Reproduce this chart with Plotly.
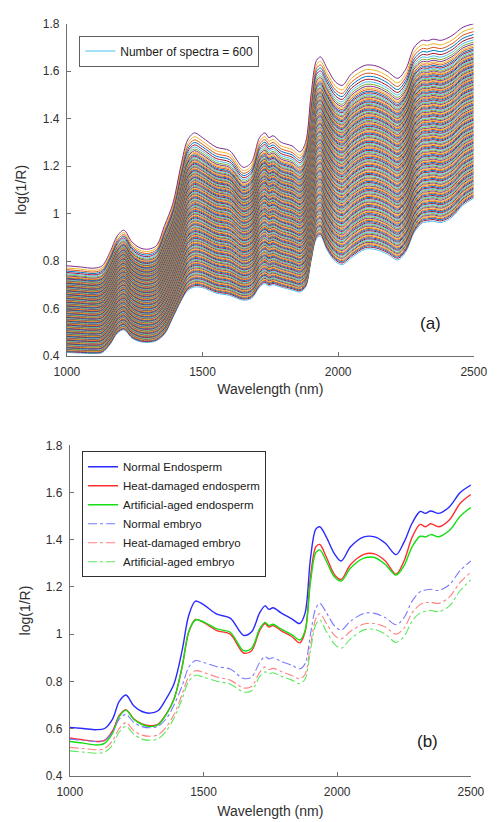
import plotly.graph_objects as go

# ---------------- data ----------------
WAVELENGTH = [1000, 1050, 1100, 1130, 1160, 1185, 1210, 1240, 1270, 1300,
              1330, 1360, 1390, 1420, 1445, 1470, 1500, 1550, 1600, 1650,
              1680, 1710, 1730, 1745, 1760, 1790, 1830, 1860, 1880, 1900,
              1920, 1935, 1960, 1990, 2015, 2050, 2100, 2140, 2180, 2220,
              2250, 2280, 2310, 2330, 2350, 2380, 2420, 2460, 2500]

# (a) upper-most and lower-most spectra of the 600-spectrum set
UPPER_SPECTRUM = [0.780, 0.775, 0.770, 0.780, 0.840, 0.905, 0.930, 0.880, 0.855, 0.850,
                  0.865, 0.950, 1.040, 1.200, 1.310, 1.340, 1.320, 1.280, 1.265, 1.195,
                  1.215, 1.320, 1.340, 1.320, 1.328, 1.300, 1.285, 1.260, 1.300, 1.500,
                  1.645, 1.660, 1.610, 1.555, 1.540, 1.590, 1.625, 1.622, 1.600, 1.570,
                  1.610, 1.700, 1.730, 1.728, 1.735, 1.730, 1.750, 1.785, 1.800]
LOWER_SPECTRUM = [0.415, 0.412, 0.410, 0.414, 0.450, 0.495, 0.510, 0.475, 0.460, 0.457,
                  0.464, 0.492, 0.560, 0.630, 0.675, 0.690, 0.688, 0.665, 0.655, 0.635,
                  0.642, 0.690, 0.705, 0.695, 0.700, 0.690, 0.678, 0.670, 0.690, 0.800,
                  0.895, 0.905, 0.845, 0.798, 0.785, 0.815, 0.850, 0.848, 0.830, 0.805,
                  0.840, 0.920, 0.960, 0.965, 0.968, 0.962, 0.985, 1.035, 1.065]
# relative level of each drawn spectrum between the lower-most (0) and upper-most (1) one
SPECTRUM_LEVELS = [
    0.000, 0.009, 0.016, 0.022, 0.029, 0.035, 0.041, 0.048, 0.054, 0.060,
    0.066, 0.073, 0.079, 0.085, 0.091, 0.098, 0.104, 0.110, 0.116, 0.123,
    0.129, 0.135, 0.141, 0.148, 0.154, 0.160, 0.166, 0.173, 0.179, 0.185,
    0.191, 0.198, 0.204, 0.210, 0.216, 0.223, 0.229, 0.235, 0.241, 0.248,
    0.254, 0.260, 0.266, 0.273, 0.279, 0.285, 0.291, 0.298, 0.304, 0.310,
    0.316, 0.323, 0.329, 0.335, 0.341, 0.348, 0.354, 0.360, 0.366, 0.373,
    0.379, 0.385, 0.391, 0.398, 0.404, 0.410, 0.416, 0.423, 0.429, 0.435,
    0.441, 0.448, 0.454, 0.460, 0.466, 0.473, 0.479, 0.485, 0.491, 0.498,
    0.504, 0.510, 0.516, 0.523, 0.529, 0.535, 0.541, 0.548, 0.554, 0.560,
    0.566, 0.573, 0.579, 0.585, 0.591, 0.598, 0.604, 0.610, 0.616, 0.623,
    0.629, 0.635, 0.641, 0.648, 0.654, 0.660, 0.666, 0.673, 0.679, 0.685,
    0.691, 0.698, 0.704, 0.710, 0.716, 0.723, 0.729, 0.735, 0.741, 0.748,
    0.754, 0.760, 0.766, 0.773, 0.779, 0.785, 0.791, 0.798, 0.804, 0.811,
    0.818, 0.825, 0.832, 0.840, 0.848, 0.856, 0.865, 0.874, 0.884, 0.895,
    0.908, 0.922, 0.938, 0.955, 0.975, 1.000]
SPECTRA_LABEL = "Number of spectra = 600"

# (b) mean spectra
NORMAL_ENDOSPERM = [0.605, 0.600, 0.595, 0.600, 0.640, 0.715, 0.742, 0.695, 0.672, 0.665,
                    0.675, 0.725, 0.790, 0.930, 1.080, 1.140, 1.125, 1.085, 1.068, 0.995,
                    1.010, 1.090, 1.120, 1.105, 1.112, 1.090, 1.065, 1.045, 1.090, 1.320,
                    1.445, 1.455, 1.410, 1.340, 1.310, 1.370, 1.412, 1.412, 1.385, 1.337,
                    1.390, 1.470, 1.520, 1.512, 1.522, 1.512, 1.540, 1.600, 1.632]
HEAT_ENDOSPERM = [0.560, 0.552, 0.545, 0.550, 0.590, 0.655, 0.680, 0.640, 0.620, 0.612,
                  0.618, 0.660, 0.725, 0.860, 1.010, 1.062, 1.050, 1.015, 1.000, 0.920,
                  0.930, 1.015, 1.045, 1.030, 1.036, 1.015, 0.990, 0.963, 1.010, 1.240,
                  1.370, 1.380, 1.325, 1.252, 1.232, 1.295, 1.338, 1.340, 1.310, 1.254,
                  1.310, 1.410, 1.465, 1.455, 1.468, 1.455, 1.485, 1.555, 1.592]
AGED_ENDOSPERM = [0.545, 0.538, 0.530, 0.537, 0.580, 0.650, 0.678, 0.638, 0.617, 0.608,
                  0.615, 0.658, 0.725, 0.860, 1.010, 1.060, 1.052, 1.022, 1.008, 0.930,
                  0.940, 1.022, 1.050, 1.036, 1.042, 1.022, 0.998, 0.975, 1.015, 1.220,
                  1.345, 1.357, 1.308, 1.242, 1.225, 1.280, 1.322, 1.325, 1.295, 1.250,
                  1.290, 1.370, 1.415, 1.412, 1.422, 1.413, 1.440, 1.500, 1.537]
NORMAL_EMBRYO = [0.555, 0.550, 0.545, 0.550, 0.585, 0.640, 0.660, 0.625, 0.608, 0.603,
                 0.610, 0.640, 0.700, 0.780, 0.860, 0.888, 0.880, 0.862, 0.852, 0.812,
                 0.818, 0.880, 0.905, 0.895, 0.900, 0.885, 0.868, 0.853, 0.875, 1.000,
                 1.110, 1.130, 1.090, 1.035, 1.017, 1.055, 1.088, 1.088, 1.070, 1.040,
                 1.070, 1.140, 1.180, 1.187, 1.190, 1.185, 1.210, 1.270, 1.310]
HEAT_EMBRYO = [0.520, 0.515, 0.510, 0.515, 0.548, 0.600, 0.625, 0.590, 0.572, 0.567,
               0.573, 0.605, 0.660, 0.745, 0.820, 0.845, 0.838, 0.818, 0.805, 0.772,
               0.778, 0.838, 0.860, 0.850, 0.855, 0.842, 0.825, 0.810, 0.830, 0.955,
               1.065, 1.087, 1.045, 0.995, 0.980, 1.012, 1.043, 1.045, 1.030, 1.000,
               1.025, 1.090, 1.125, 1.133, 1.135, 1.130, 1.158, 1.220, 1.262]
AGED_EMBRYO = [0.505, 0.500, 0.495, 0.500, 0.530, 0.585, 0.610, 0.575, 0.555, 0.550,
               0.556, 0.588, 0.645, 0.725, 0.800, 0.825, 0.818, 0.800, 0.788, 0.755,
               0.760, 0.820, 0.840, 0.832, 0.836, 0.822, 0.805, 0.790, 0.810, 0.930,
               1.040, 1.060, 1.010, 0.958, 0.940, 0.980, 1.018, 1.020, 1.000, 0.965,
               0.990, 1.055, 1.090, 1.097, 1.100, 1.095, 1.120, 1.185, 1.230]

MEAN_NAMES = ["Normal Endosperm", "Heat-damaged endosperm", "Artificial-aged endosperm",
              "Normal embryo", "Heat-damaged embryo", "Artificial-aged embryo"]
MEAN_SERIES = [NORMAL_ENDOSPERM, HEAT_ENDOSPERM, AGED_ENDOSPERM,
               NORMAL_EMBRYO, HEAT_EMBRYO, AGED_EMBRYO]

X_TICKS = [1000, 1500, 2000, 2500]

# ---------------- styles ----------------
SPECTRA_COLORS = ["#4DBEEE", "#A2142F", "#0072BD", "#D95319", "#EDB120", "#7E2F8E", "#77AC30"]
MEAN_COLORS = ["#2a2aff", "#ff2f2f", "#12e012", "#7a7aff", "#ff8080", "#5fe85f"]
MEAN_DASH = ["solid", "solid", "solid", "dashdot", "dashdot", "dashdot"]
MEAN_WIDTH = [1.4, 1.4, 1.4, 1.1, 1.1, 1.1]

FONT = "Liberation Sans, Arial, sans-serif"
AXIS_COLOR = "#707070"
TEXT_COLOR = "#303030"

fig = go.Figure()

for i, lvl in enumerate(SPECTRUM_LEVELS):
    yy = [lo + lvl * (hi - lo) for lo, hi in zip(LOWER_SPECTRUM, UPPER_SPECTRUM)]
    fig.add_trace(go.Scatter(
        x=WAVELENGTH, y=yy, mode="lines",
        line=dict(color=SPECTRA_COLORS[i % len(SPECTRA_COLORS)], width=1, shape="spline", smoothing=0.9),
        name=SPECTRA_LABEL, showlegend=(i == 0), legend="legend",
        xaxis="x", yaxis="y", hoverinfo="skip"))

for name, ser, col, dash, w in zip(MEAN_NAMES, MEAN_SERIES, MEAN_COLORS, MEAN_DASH, MEAN_WIDTH):
    fig.add_trace(go.Scatter(
        x=WAVELENGTH, y=ser, mode="lines",
        line=dict(color=col, width=w, dash=dash, shape="spline", smoothing=0.9),
        name=name, legend="legend2", xaxis="x2", yaxis="y2"))

W, H = 501, 822

def px_x(p):
    return p / W

def px_y(p):
    return 1 - p / H

axis_common = dict(
    showline=True, linecolor=AXIS_COLOR, linewidth=1, mirror=False,
    ticks="inside", ticklen=4, tickcolor=AXIS_COLOR, tickwidth=1,
    showgrid=False, zeroline=False,
    tickfont=dict(family=FONT, size=12, color=TEXT_COLOR),
)

fig.update_layout(
    width=W, height=H, margin=dict(l=0, r=0, t=0, b=0),
    paper_bgcolor="white", plot_bgcolor="white",
    font=dict(family=FONT, color=TEXT_COLOR),
    xaxis=dict(domain=[px_x(57), px_x(487)], range=[1000, 2500], tickvals=X_TICKS,
               anchor="y", ticklabelstandoff=5,
               title=dict(text="Wavelength (nm)", standoff=5, font=dict(family=FONT, size=14, color=TEXT_COLOR)),
               **axis_common),
    yaxis=dict(domain=[px_y(355), px_y(17)], range=[0.4, 1.8], dtick=0.2, tick0=0.4,
               anchor="x", ticklabelstandoff=4,
               title=dict(text="log(1/R)", standoff=12, font=dict(family=FONT, size=14, color=TEXT_COLOR)),
               **axis_common),
    xaxis2=dict(domain=[px_x(60), px_x(484)], range=[1000, 2500], tickvals=X_TICKS,
                anchor="y2", ticklabelstandoff=5,
                title=dict(text="Wavelength (nm)", standoff=8, font=dict(family=FONT, size=14, color=TEXT_COLOR)),
                **axis_common),
    yaxis2=dict(domain=[px_y(782), px_y(446)], range=[0.4, 1.8], dtick=0.2, tick0=0.4,
                anchor="x2", ticklabelstandoff=4,
                title=dict(text="log(1/R)", standoff=11, font=dict(family=FONT, size=14, color=TEXT_COLOR)),
                **axis_common),
    legend=dict(x=px_x(70), y=px_y(29), xanchor="left", yanchor="top",
                bordercolor="#606060", borderwidth=1, bgcolor="white",
                font=dict(family=FONT, size=12, color="#202020"),
                itemclick=False, itemdoubleclick=False),
    legend2=dict(x=px_x(73), y=px_y(452), xanchor="left", yanchor="top",
                 bordercolor="#303030", borderwidth=1, bgcolor="white",
                 font=dict(family=FONT, size=11.5, color="#202020"),
                 itemclick=False, itemdoubleclick=False),
    annotations=[
        dict(text="(a)", x=px_x(441), y=px_y(322), xref="paper", yref="paper",
             xanchor="center", yanchor="middle",
             showarrow=False, font=dict(family=FONT, size=17, color="#202020")),
        dict(text="(b)", x=px_x(438), y=px_y(747), xref="paper", yref="paper",
             xanchor="center", yanchor="middle",
             showarrow=False, font=dict(family=FONT, size=17, color="#202020")),
    ],
)

fig.write_html("out.html")
